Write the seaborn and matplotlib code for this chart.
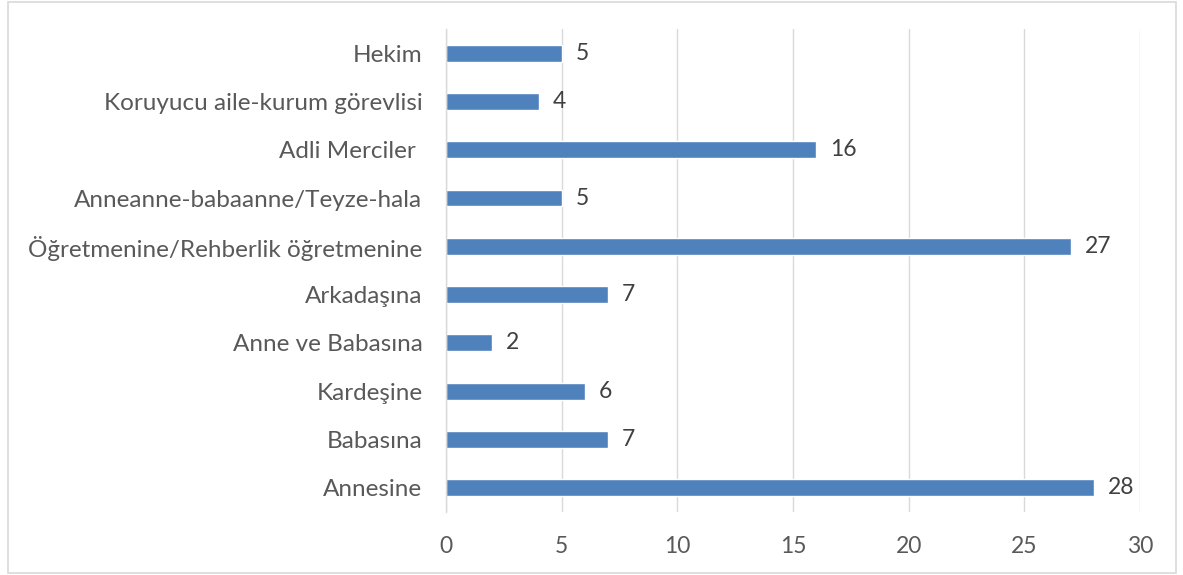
import matplotlib
matplotlib.use("Agg")
import matplotlib.pyplot as plt
import seaborn as sns
import pandas as pd
from matplotlib.patches import Rectangle

categories = ["Hekim", "Koruyucu aile-kurum görevlisi", "Adli Merciler ",
              "Anneanne-babaanne/Teyze-hala", "Öğretmenine/Rehberlik öğretmenine",
              "Arkadaşına", "Anne ve Babasına", "Kardeşine", "Babasına", "Annesine"]
values = [5, 4, 16, 5, 27, 7, 2, 6, 7, 28]
xticks = [0, 5, 10, 15, 20, 25, 30]

sns.set_theme(style="white")
plt.rcParams['font.family'] = ['Lato', 'DejaVu Sans']

df = pd.DataFrame({"cat": categories, "val": values})

fig = plt.figure(figsize=(11.83, 5.75), dpi=100)
ax = fig.add_axes([0.377, 0.1096, 0.5867, 0.84])
sns.barplot(data=df, y="cat", x="val", orient="h", color="#4F81BD",
            saturation=1, width=0.35, ax=ax, order=categories)

ax.set_xlim(0, 30)
ax.set_xticks(xticks)
ax.set_xlabel("")
ax.set_ylabel("")
ax.grid(axis="x", color="#D9D9D9", linewidth=1)
ax.set_axisbelow(True)
for s in ["top", "right", "bottom"]:
    ax.spines[s].set_visible(False)
ax.spines["left"].set_color("#D9D9D9")
ax.spines["left"].set_linewidth(1)
ax.tick_params(axis="y", length=0, colors="#595959", labelsize=17.5, pad=17)
ax.tick_params(axis="x", length=0, colors="#595959", labelsize=16.5, pad=17)

for c in ax.containers:
    ax.bar_label(c, labels=[str(v) for v in values], padding=10,
                 fontsize=16.5, color="#404040")

fig.patches.append(Rectangle((0.007, 0.004), 0.987, 0.993, transform=fig.transFigure,
                             fill=False, edgecolor="#D9D9D9", linewidth=1.2))

fig.savefig("out.png", dpi=100)
